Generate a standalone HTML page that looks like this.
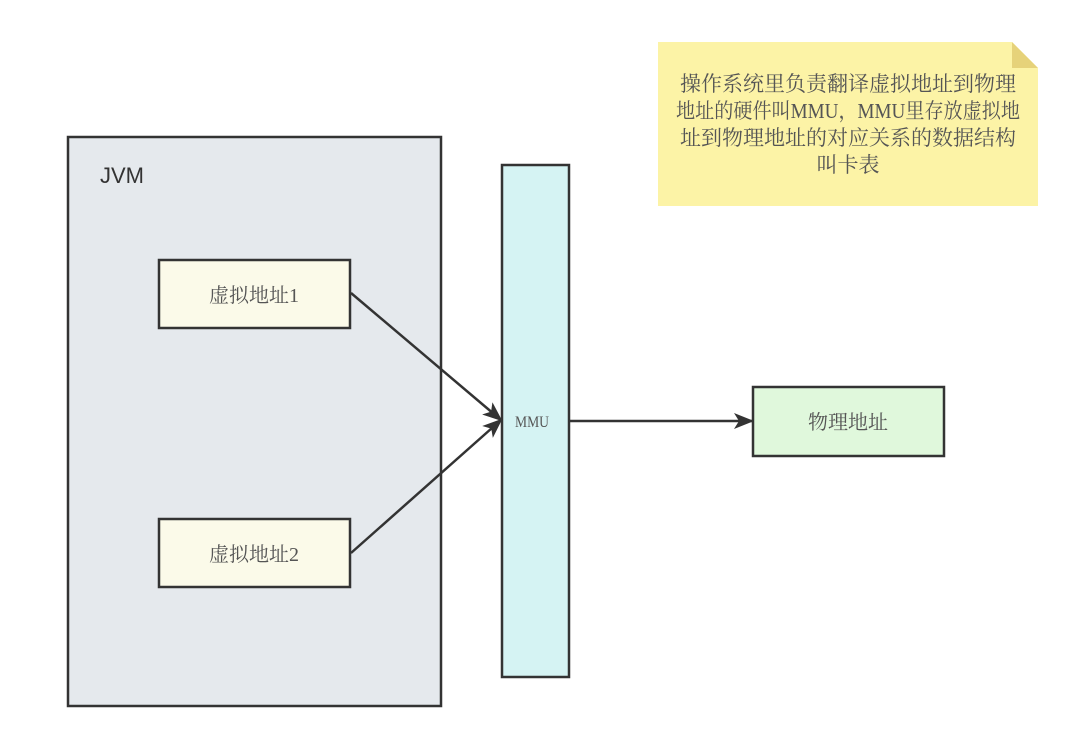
<!DOCTYPE html>
<html><head><meta charset="utf-8"><style>
html,body{margin:0;padding:0;background:#fff;width:1080px;height:748px;overflow:hidden}
svg text{font-family:"Liberation Serif","Noto Serif CJK SC","Noto Sans CJK SC",serif;fill:#555}
</style></head><body>
<svg width="1080" height="748" viewBox="0 0 1080 748" xmlns="http://www.w3.org/2000/svg">
<defs>
<marker id="b" markerWidth="20" markerHeight="20" refX="18" refY="10" orient="auto" markerUnits="userSpaceOnUse" viewBox="0 0 20 20"><path d="M0,2 L20,10 L0,18 L5,10 Z" fill="#333"/></marker></defs>
<rect x="68" y="137" width="373" height="569" fill="#e5e9ed" stroke="#333" stroke-width="2.5"/>
<text x="100" y="183" font-size="22" style="font-family:'Liberation Sans',sans-serif;fill:#333">JVM</text>
<rect x="159" y="260" width="191" height="68" fill="#fbfae9" stroke="#333" stroke-width="2.5"/>
<text x="254" y="302" font-size="20" text-anchor="middle">虚拟地址1</text>
<rect x="159" y="519" width="191" height="68" fill="#fbfae9" stroke="#333" stroke-width="2.5"/>
<text x="254" y="561" font-size="20" text-anchor="middle">虚拟地址2</text>
<rect x="502" y="165" width="67" height="512" fill="#d5f3f3" stroke="#333" stroke-width="2.5"/>
<text x="532" y="427" font-size="16" text-anchor="middle" textLength="34" lengthAdjust="spacingAndGlyphs">MMU</text>
<rect x="753" y="387" width="191" height="69" fill="#e0f8dc" stroke="#333" stroke-width="2.5"/>
<text x="848" y="429" font-size="20" text-anchor="middle">物理地址</text>
<line x1="351" y1="293" x2="501" y2="420" stroke="#333" stroke-width="2.5" marker-end="url(#b)"/>
<line x1="351" y1="553" x2="501" y2="420" stroke="#333" stroke-width="2.5" marker-end="url(#b)"/>
<line x1="569" y1="421" x2="752" y2="421" stroke="#333" stroke-width="2.5" marker-end="url(#b)"/>
<path d="M658,42 L1012,42 L1038,68 L1038,206 L658,206 Z" fill="#fcf3a6"/>
<path d="M1012,42 L1038,68 L1012,68 Z" fill="#e6d27a"/>
<g font-size="21" text-anchor="middle">
<text x="848" y="91">操作系统里负责翻译虚拟地址到物理</text>
<text x="848" y="118" textLength="344" lengthAdjust="spacingAndGlyphs">地址的硬件叫MMU，MMU里存放虚拟地</text>
<text x="848" y="145">址到物理地址的对应关系的数据结构</text>
<text x="848" y="172">叫卡表</text>
</g>
</svg>
</body></html>
